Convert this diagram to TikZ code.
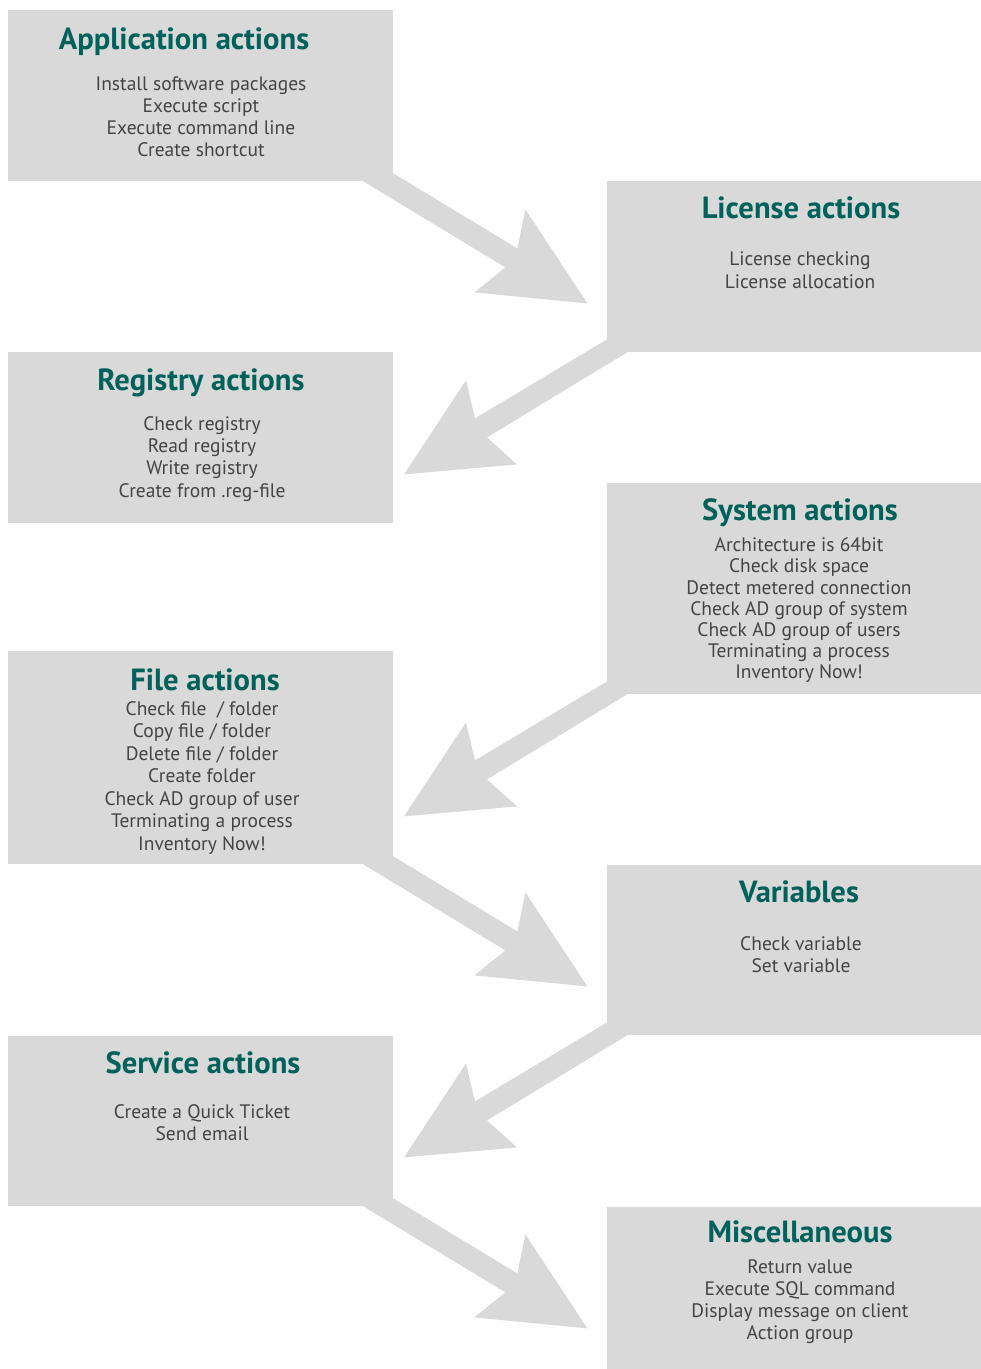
\documentclass[tikz,border=0pt]{standalone}
\usepackage{fontspec}
\setmainfont{PT Sans}
\usetikzlibrary{calc}
\definecolor{panel}{HTML}{D9D9D9}
\definecolor{headteal}{HTML}{00625A}
\definecolor{bodytext}{HTML}{444444}

% broad arrow leaving a left panel at its lower right corner
\newcommand\flowright[1]{%
  \fill[panel] ($(#1.south east)+(0,-8)$) -- ($(#1.south east)+(124,67)$)
    -- ($(#1.south east)+(132,28)$) -- ($(#1.south east)+(194,122)$)
    -- ($(#1.south east)+(81,111)$) -- ($(#1.south east)+(112,86)$)
    -- ($(#1.south east)+(-30,0)$) -- cycle;}
% broad arrow leaving a right panel at its lower left corner
\newcommand\flowleft[1]{%
  \fill[panel] ($(#1.south west)+(0,-13)$) -- ($(#1.south west)+(-132,66)$)
    -- ($(#1.south west)+(-141,28)$) -- ($(#1.south west)+(-203,122)$)
    -- ($(#1.south west)+(-90,112)$) -- ($(#1.south west)+(-120,85)$)
    -- ($(#1.south west)+(20,0)$) -- cycle;}

\begin{document}
\begin{tikzpicture}[x=1pt,y=-1pt,
  box/.style={fill=panel, inner sep=0pt, anchor=north west},
  lbox/.style={box, minimum width=385pt},
  rbox/.style={box, minimum width=374pt},
  title/.style={font=\bfseries\fontsize{30.6}{30.6}\selectfont, text=headteal, anchor=base, inner sep=0pt},
  body/.style={font=\fontsize{19.5}{19.5}\selectfont, text=bodytext, anchor=base, inner sep=0pt}]
\useasboundingbox (0,0) rectangle (981,1369);

% panels
\node[lbox, minimum height=171pt] (app)  at (8,10)   {};
\node[lbox, minimum height=171pt] (reg)  at (8,352)  {};
\node[lbox, minimum height=213pt] (file) at (8,651)  {};
\node[lbox, minimum height=170pt] (svc)  at (8,1036) {};
\node[rbox, minimum height=171pt] (lic)  at (607,181)  {};
\node[rbox, minimum height=211pt] (sys)  at (607,483)  {};
\node[rbox, minimum height=170pt] (var)  at (607,865)  {};
\node[rbox, minimum height=162pt] (misc) at (607,1207) {};

% flow arrows
\flowright{app}
\flowleft{lic}
\flowleft{sys}
\flowright{file}
\flowleft{var}
\flowright{svc}

% headings
\node[title] (app-t)  at (184,49)    {Application actions};
\node[title] (lic-t)  at (801,218)   {License actions};
\node[title] (reg-t)  at (201,390)   {Registry actions};
\node[title] (sys-t)  at (800,520)   {System actions};
\node[title] (file-t) at (205,690)   {File actions};
\node[title] (var-t)  at (799,902.7) {Variables};
\node[title] (svc-t)  at (203,1073)  {Service actions};
\node[title] (misc-t) at (800,1242.7) {Miscellaneous};

% entries
\foreach \txt [count=\i] in {Install software packages, Execute script, Execute command line, Create shortcut}
  \node[body] (app-\i) at (201,{90.7+22*(\i-1)}) {\txt};
\foreach \txt [count=\i] in {License checking, License allocation}
  \node[body] (lic-\i) at (800,{265.5+22.5*(\i-1)}) {\txt};
\foreach \txt [count=\i] in {Check registry, Read registry, Write registry, Create from .reg-file}
  \node[body] (reg-\i) at (202,{430.5+22.2*(\i-1)}) {\txt};
\foreach \txt [count=\i] in {Architecture is 64bit, Check disk space, Detect metered connection, Check AD group of system, Check AD group of users, Terminating a process, Inventory Now!}
  \node[body] (sys-\i) at (799,{551.7+21.2*(\i-1)}) {\txt};
\foreach \txt [count=\i] in {Check file \ / folder, Copy file / folder, Delete file / folder, Create folder, Check AD group of user, Terminating a process, Inventory Now!}
  \node[body] (file-\i) at (202,{715.3+22.45*(\i-1)}) {\txt};
\foreach \txt [count=\i] in {Check variable, Set variable}
  \node[body] (var-\i) at (801,{950.7+21.6*(\i-1)}) {\txt};
\foreach \txt [count=\i] in {Create a Quick Ticket, Send email}
  \node[body] (svc-\i) at (202,{1118+22.7*(\i-1)}) {\txt};
\foreach \txt [count=\i] in {Return value, Execute SQL command, Display message on client, Action group}
  \node[body] (misc-\i) at (800,{1273+22.3*(\i-1)}) {\txt};
\end{tikzpicture}
\end{document}
